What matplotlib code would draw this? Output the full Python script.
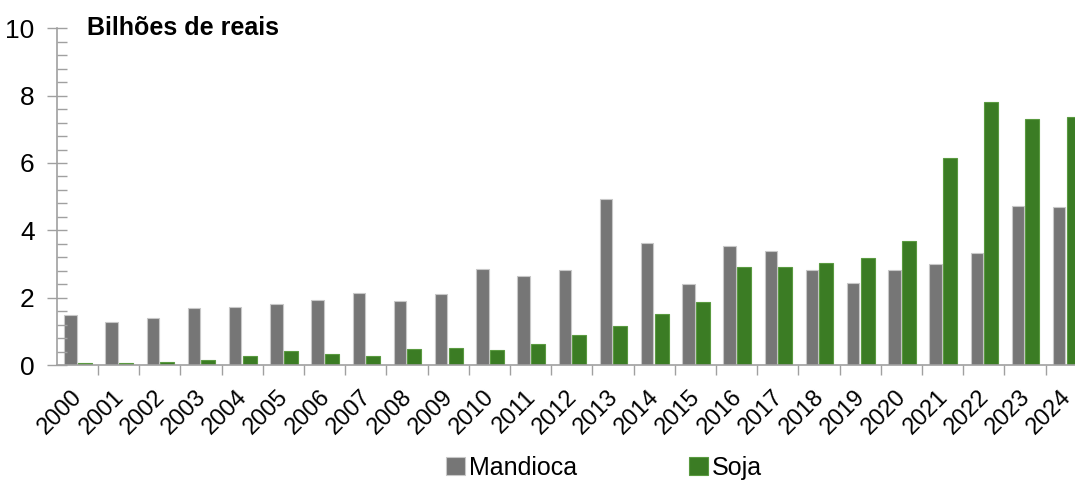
import numpy as np
import matplotlib
matplotlib.use("Agg")
import matplotlib.pyplot as plt
from matplotlib.ticker import MultipleLocator
from matplotlib.transforms import ScaledTranslation

plt.rcParams['font.family'] = ['Liberation Sans', 'DejaVu Sans']

anos = [str(a) for a in range(2000, 2025)]
mandioca = [1.48, 1.29, 1.39, 1.68, 1.73, 1.80, 1.93, 2.15, 1.90, 2.12,
            2.86, 2.63, 2.83, 4.94, 3.62, 2.40, 3.52, 3.40, 2.83, 2.43,
            2.81, 2.99, 3.32, 4.73, 4.68]
soja = [0.07, 0.07, 0.08, 0.14, 0.26, 0.43, 0.33, 0.28, 0.49, 0.52,
        0.45, 0.63, 0.88, 1.17, 1.52, 1.86, 2.91, 2.91, 3.02, 3.19,
        3.67, 6.16, 7.80, 7.32, 7.37]

cinza = "#767676"
verde = "#3b7c24"

fig = plt.figure(figsize=(10.75, 4.82), dpi=100)
ax = fig.add_axes([0.0528, 0.2427, 0.9582, 0.6986])

x = np.arange(len(anos))
w = 0.30
ax.bar(x - 0.17, mandioca, w, color=cinza, edgecolor="#c8c8c8", linewidth=0.8, label="Mandioca")
ax.bar(x + 0.18, soja, w + 0.04, color=verde, edgecolor="#5a9a40", linewidth=0.8, label="Soja")

ax.set_xlim(-0.5, len(anos) - 0.5)
ax.set_ylim(0, 10)
ax.yaxis.set_major_locator(MultipleLocator(2))
ax.yaxis.set_minor_locator(MultipleLocator(0.4))

for s in ["top", "right"]:
    ax.spines[s].set_visible(False)
for s in ["left", "bottom"]:
    ax.spines[s].set_color("#a0a0a0")
    ax.spines[s].set_linewidth(1.2)

ax.tick_params(axis="y", which="major", direction="inout", length=14, width=1,
               color="#a0a0a0", labelsize=19, pad=9)
ax.tick_params(axis="y", which="minor", direction="in", length=7, width=1, color="#a0a0a0")

ax.set_xticks(x[:-1] + 0.5, minor=True)
ax.set_xticks(x)
ax.set_xticklabels(anos, rotation=45, ha="right", va="top", rotation_mode="anchor", fontsize=17)
ax.tick_params(axis="x", which="major", length=0, pad=15)
ax.tick_params(axis="x", which="minor", direction="out", length=7, width=1, color="#a0a0a0")
shift = ScaledTranslation(-6 / 100, 0, fig.dpi_scale_trans)
for lbl in ax.get_xticklabels():
    lbl.set_transform(lbl.get_transform() + shift)

fig.text(87 / 1075, 1 - 28 / 482, "Bilhões de reais", fontsize=18, fontweight="bold",
         va="center", ha="left")

fig.legend(loc="center", bbox_to_anchor=(0.562, 1 - 468 / 482), ncol=2, frameon=False,
           fontsize=18, handlelength=0.75, handleheight=0.75, handletextpad=0.15,
           columnspacing=4.5)

fig.savefig("out.png", dpi=100)
